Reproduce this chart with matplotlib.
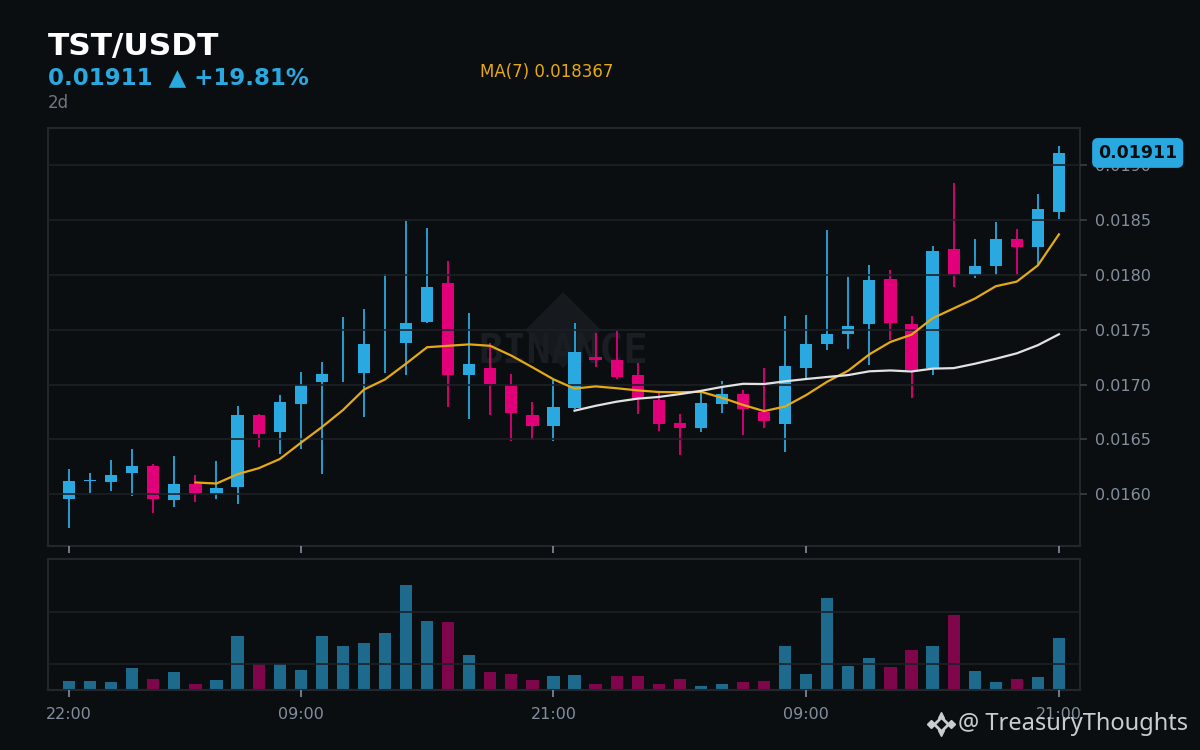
import numpy as np
import pandas as pd
import matplotlib
matplotlib.use("Agg")
import matplotlib.pyplot as plt
from matplotlib.patches import Polygon
from matplotlib.lines import Line2D

# hourly candles, 22:00 -> 21:00 two days later
opens = [
    0.015961, 0.016118, 0.016115, 0.016197, 0.016258, 0.015948, 0.016094, 0.016006, 0.016070, 0.016723,
    0.016571, 0.016826, 0.017026, 0.017100, 0.017108, 0.017370, 0.017381, 0.017570, 0.017925, 0.017087,
    0.017151, 0.016993, 0.016723, 0.016625, 0.016789, 0.017248, 0.017224, 0.017084, 0.016859, 0.016647,
    0.016607, 0.016826, 0.016911, 0.016750, 0.016644, 0.017154, 0.017372, 0.017463, 0.017554, 0.017961,
    0.017551, 0.017148, 0.018234, 0.017998, 0.018083, 0.018326, 0.018250, 0.018575]
closes = [
    0.016121, 0.016126, 0.016176, 0.016258, 0.015961, 0.016094, 0.016015, 0.016058, 0.016723, 0.016553,
    0.016841, 0.016996, 0.017096, 0.017100, 0.017369, 0.017370, 0.017561, 0.017888, 0.017087, 0.017187,
    0.017008, 0.016744, 0.016625, 0.016795, 0.017296, 0.017227, 0.017069, 0.016871, 0.016641, 0.016607,
    0.016829, 0.016911, 0.016774, 0.016671, 0.017169, 0.017369, 0.017460, 0.017533, 0.017952, 0.017564,
    0.017132, 0.018216, 0.017998, 0.018080, 0.018326, 0.018250, 0.018599, 0.019110]
highs = [
    0.016228, 0.016191, 0.016313, 0.016413, 0.016276, 0.016349, 0.016176, 0.016304, 0.016805, 0.016732,
    0.016905, 0.017114, 0.017205, 0.017612, 0.017685, 0.018007, 0.018490, 0.018426, 0.018125, 0.017652,
    0.017375, 0.017093, 0.016838, 0.017041, 0.017561, 0.017466, 0.017488, 0.017193, 0.016920, 0.016729,
    0.016935, 0.017032, 0.016947, 0.017148, 0.017621, 0.017631, 0.018408, 0.017979, 0.018089, 0.018043,
    0.017624, 0.018262, 0.018839, 0.018326, 0.018480, 0.018417, 0.018735, 0.019173]
lows = [
    0.015696, 0.016015, 0.016033, 0.015988, 0.015833, 0.015888, 0.015933, 0.015961, 0.015915, 0.016434,
    0.016370, 0.016416, 0.016188, 0.017026, 0.016701, 0.017108, 0.017090, 0.017561, 0.016798, 0.016689,
    0.016726, 0.016489, 0.016498, 0.016489, 0.016774, 0.017163, 0.017054, 0.016732, 0.016580, 0.016358,
    0.016571, 0.016744, 0.016543, 0.016607, 0.016389, 0.017057, 0.017318, 0.017327, 0.017178, 0.017406,
    0.016880, 0.017087, 0.017891, 0.017973, 0.017998, 0.017998, 0.018092, 0.018505]
volumes = [
    0.35, 0.35, 0.31, 0.85, 0.42, 0.69, 0.23, 0.38, 2.08, 1.00,
    1.00, 0.77, 2.08, 1.69, 1.81, 2.19, 4.04, 2.65, 2.62, 1.35,
    0.69, 0.62, 0.38, 0.54, 0.58, 0.23, 0.54, 0.54, 0.23, 0.42,
    0.15, 0.23, 0.31, 0.35, 1.69, 0.62, 3.54, 0.92, 1.23, 0.88,
    1.54, 1.69, 2.88, 0.73, 0.31, 0.44, 0.50, 2.00]

tick_idx = [0, 11, 23, 35, 47]
tick_labels = ["22:00", "09:00", "21:00", "09:00", "21:00"]
price_ticks = [0.0160, 0.0165, 0.0170, 0.0175, 0.0180, 0.0185, 0.0190]

BG = "#0b0e11"
UP = "#29a9e0"
DOWN = "#e1007a"
GREY = "#848e9c"
GRID = "#1d2126"
EDGE = "#23272d"
MA7_C = "#e5a913"
MA25_C = "#e2e2e2"
LOGO = "#c9cdd2"

df = pd.DataFrame({"open": opens, "high": highs, "low": lows, "close": closes, "vol": volumes})
df["ma7"] = df["close"].rolling(7).mean()
df["ma25"] = df["close"].rolling(25).mean()
x = np.arange(len(df))
up = df["close"] >= df["open"]
colors = np.where(up, UP, DOWN)

fig = plt.figure(figsize=(12, 7.5), dpi=100, facecolor=BG)
ax = fig.add_axes([0.04, 0.272, 0.86, 0.5573], facecolor=BG)
axv = fig.add_axes([0.04, 0.08, 0.86, 0.1747], facecolor=BG, sharex=ax)

# watermark
diamond = Polygon([(563 / 1200, 1 - 293 / 750), (600 / 1200, 1 - 330 / 750),
                   (563 / 1200, 1 - 367 / 750), (526 / 1200, 1 - 330 / 750)],
                  closed=True, transform=fig.transFigure, color="#16191d", zorder=0.3)
ax.add_patch(diamond)
ax.text(563 / 1200, 1 - 352 / 750, "BINANCE", transform=fig.transFigure, ha="center", va="center",
        fontsize=29, fontweight="bold", family="DejaVu Sans Mono", color="#1a1d22", zorder=0.4)

# candles
ax.vlines(x, df["low"], df["high"], colors=colors, linewidth=1.3, zorder=1)
ax.bar(x, df["close"] - df["open"], bottom=df["open"], width=0.58, color=colors, linewidth=0, zorder=1.2)
ax.plot(x, df["ma7"], color=MA7_C, linewidth=1.6, zorder=3)
ax.plot(x, df["ma25"], color=MA25_C, linewidth=1.6, zorder=3)

ax.set_xlim(-1, 48)
ax.set_ylim(0.015529, 0.019337)
ax.set_yticks(price_ticks)
ax.yaxis.set_major_formatter(matplotlib.ticker.FormatStrFormatter("%.4f"))
ax.yaxis.tick_right()
ax.set_xticks(tick_idx)
ax.tick_params(axis="x", labelbottom=False, length=5, width=1.2, color=GREY)
ax.tick_params(axis="y", labelsize=11.5, labelcolor=GREY, length=5, width=1.2, color="#3a3f46", pad=6)
ax.grid(True, axis="y", color=GRID, linewidth=1.2)
ax.set_axisbelow(False)
for s in ax.spines.values():
    s.set_color(EDGE)
    s.set_linewidth(1.5)

# last price tag
ax.text(1.0175, closes[-1], "%.5f" % closes[-1], transform=ax.get_yaxis_transform(),
        ha="left", va="center", fontsize=12.5, fontweight="bold", color=BG, zorder=5, clip_on=False,
        bbox=dict(boxstyle="round,pad=0.3,rounding_size=0.3", facecolor=UP, edgecolor=UP))

# volume
vcol = np.where(up, "#1d6a8d", "#80064b")
axv.bar(x, df["vol"], width=0.58, color=vcol, linewidth=0, zorder=1)
axv.set_ylim(0, 5.04)
axv.set_yticks([1, 3])
axv.tick_params(axis="y", left=False, labelleft=False)
axv.tick_params(axis="x", labelsize=11.5, labelcolor=GREY, length=5, width=1.2, color=GREY, pad=7)
axv.set_xticks(tick_idx)
axv.set_xticklabels(tick_labels)
axv.grid(True, axis="y", color=GRID, linewidth=1.2)
axv.set_axisbelow(False)
for s in axv.spines.values():
    s.set_color(EDGE)
    s.set_linewidth(1.5)

# header
fig.text(0.04, 1 - 55 / 750, "TST/USDT", fontsize=22.5, fontweight="bold", color="white", va="baseline")
fig.text(0.04, 1 - 84 / 750, "0.01911  \u25b2 +19.81%", fontsize=16.5, fontweight="bold", color=UP, va="baseline")
fig.text(0.04, 1 - 108 / 750, "2d", fontsize=12, color="#6f7782", va="baseline")
fig.text(480 / 1200, 1 - 77 / 750, "MA(7) 0.018367", fontsize=12, color=MA7_C, va="baseline")

# credit with a small logo
cx, cy = 941 / 1200, 1 - 724 / 750
fig.add_artist(Line2D([cx], [cy], marker="D", markersize=7, markerfacecolor="none",
                      markeredgecolor=LOGO, markeredgewidth=2, transform=fig.transFigure))
for dx, dy, m in [(-10, 0, "D"), (10, 0, "D"), (0, -9, "v"), (0, 9, "^")]:
    fig.add_artist(Line2D([cx + dx / 1200], [cy + dy / 750], marker=m, markersize=4,
                          color=LOGO, transform=fig.transFigure))
fig.text(958 / 1200, cy, "@ TreasuryThoughts", fontsize=17, family=["Noto Sans", "DejaVu Sans"],
         color=LOGO, va="center")

fig.savefig("out.png", dpi=100, facecolor=BG)
